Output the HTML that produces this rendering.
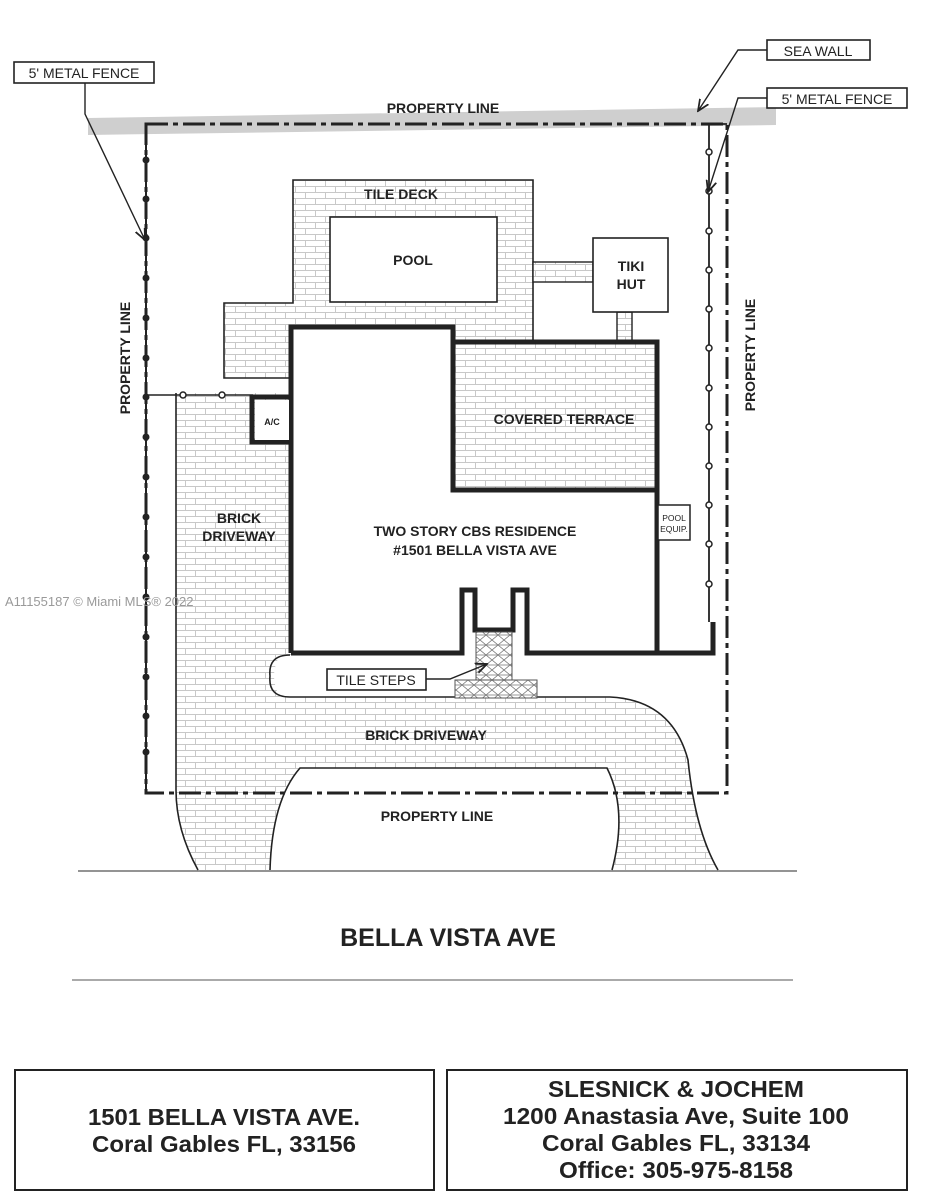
<!DOCTYPE html>
<html><head><meta charset="utf-8"><style>
html,body{margin:0;padding:0;background:#fff}
svg{display:block}
text{font-family:"Liberation Sans",Arial,sans-serif;fill:#222}
</style></head><body>
<svg width="927" height="1200" viewBox="0 0 927 1200" xmlns="http://www.w3.org/2000/svg">
<defs>
<pattern id="brick" width="20" height="12" patternUnits="userSpaceOnUse">
<rect width="20" height="12" fill="#fff"/>
<path d="M0 0.5H20M0 6.5H20M5.5 0.5V6.5M15.5 6.5V12.5" stroke="#c8c8c8" stroke-width="1" fill="none"/>
</pattern>
<pattern id="hatch" width="12" height="10" patternUnits="userSpaceOnUse">
<rect width="12" height="10" fill="#fff"/>
<path d="M0 0L6 5L0 10M6 5L12 0M6 5L12 10M0 5H12" stroke="#777" stroke-width="0.8" fill="none"/>
</pattern>
<marker id="ar" viewBox="0 0 10 10" refX="9" refY="5" markerWidth="9" markerHeight="9" orient="auto"><path d="M0 1L9 5L0 9" fill="none" stroke="#222" stroke-width="1.4"/></marker>
</defs>

<polygon points="88,118 776,107 776,125 88,135" fill="#cfcfcf"/>

<path d="M176,393 H291 V655 H280 Q268,676 280,697 H610 Q672,700 688,760 Q695,830 718,870 H612 Q628,810 607,768 H300 Q272,800 270,870 H198 Q176,830 176,790 Z" fill="url(#brick)" stroke="none"/>
<rect x="291" y="327" width="366" height="326" fill="#fff"/>
<path d="M176,393 V790 Q176,830 198,870" fill="none" stroke="#222" stroke-width="1.6"/>
<path d="M270,870 Q272,800 300,768 H607 Q628,810 612,870" fill="none" stroke="#222" stroke-width="1.6"/>
<path d="M718,870 Q695,830 688,760 Q672,700 610,697 H290 Q268,697 270,676 Q268,655 290,655" fill="none" stroke="#222" stroke-width="1.6"/>

<path d="M293,180 H533 V342 H453 V327 H291 V378 H224 V303 H293 Z" fill="url(#brick)" stroke="#222" stroke-width="1.6"/>
<rect x="330" y="217" width="167" height="85" fill="#fff" stroke="#222" stroke-width="1.6"/>
<rect x="533" y="262" width="60" height="20" fill="url(#brick)" stroke="#222" stroke-width="1.4"/>
<rect x="617" y="312" width="15" height="30" fill="url(#brick)" stroke="#222" stroke-width="1.4"/>
<rect x="593" y="238" width="75" height="74" fill="#fff" stroke="#222" stroke-width="1.6"/>

<rect x="453" y="342" width="204" height="148" fill="url(#brick)"/>

<path d="M291,653 V327 H453 V490 H657" fill="none" stroke="#222" stroke-width="5"/>
<path d="M453,342 H657 V653 H527 V590 H513 V630 H475 V590 H462 V653 H291" fill="none" stroke="#222" stroke-width="5" stroke-linejoin="miter"/>
<path d="M657,653 H713 V622" fill="none" stroke="#222" stroke-width="5"/>
<rect x="476" y="632" width="36" height="48" fill="url(#hatch)" stroke="#555" stroke-width="1"/>
<rect x="455" y="680" width="82" height="18" fill="url(#hatch)" stroke="#555" stroke-width="1"/>
<rect x="658" y="505" width="32" height="35" fill="#fff" stroke="#222" stroke-width="1.5"/>
<path d="M290,397 H252 V442 H291" fill="none" stroke="#222" stroke-width="5"/>
<rect x="255" y="400" width="34" height="40" fill="#fff"/>

<path d="M146,124 H727 V793 H146 Z" fill="none" stroke="#222" stroke-width="3" stroke-dasharray="22,5,5,5"/>
<line x1="146" y1="124" x2="146" y2="793" stroke="#222" stroke-width="2"/>
<g fill="#222">
<circle cx="146" cy="160" r="3.5"/><circle cx="146" cy="199" r="3.5"/><circle cx="146" cy="238" r="3.5"/><circle cx="146" cy="278" r="3.5"/><circle cx="146" cy="318" r="3.5"/><circle cx="146" cy="358" r="3.5"/><circle cx="146" cy="397" r="3.5"/><circle cx="146" cy="437" r="3.5"/><circle cx="146" cy="477" r="3.5"/><circle cx="146" cy="517" r="3.5"/><circle cx="146" cy="557" r="3.5"/><circle cx="146" cy="597" r="3.5"/><circle cx="146" cy="637" r="3.5"/><circle cx="146" cy="677" r="3.5"/><circle cx="146" cy="716" r="3.5"/><circle cx="146" cy="752" r="3.5"/>
</g>
<line x1="146" y1="395" x2="253" y2="395" stroke="#222" stroke-width="1.6"/>
<circle cx="183" cy="395" r="3" fill="#fff" stroke="#222" stroke-width="1.5"/>
<circle cx="222" cy="395" r="3" fill="#fff" stroke="#222" stroke-width="1.5"/>
<path d="M727,124 H709 V622" fill="none" stroke="#222" stroke-width="1.8"/>
<g fill="#fff" stroke="#222" stroke-width="1.5">
<circle cx="709" cy="152" r="3"/><circle cx="709" cy="191" r="3"/><circle cx="709" cy="231" r="3"/><circle cx="709" cy="270" r="3"/><circle cx="709" cy="309" r="3"/><circle cx="709" cy="348" r="3"/><circle cx="709" cy="388" r="3"/><circle cx="709" cy="427" r="3"/><circle cx="709" cy="466" r="3"/><circle cx="709" cy="505" r="3"/><circle cx="709" cy="544" r="3"/><circle cx="709" cy="584" r="3"/>
</g>

<rect x="14" y="62" width="140" height="21" fill="#fff" stroke="#222" stroke-width="1.6"/>
<text x="84" y="78" font-size="14" text-anchor="middle">5' METAL FENCE</text>
<path d="M85,83 V114 L145,240" fill="none" stroke="#222" stroke-width="1.4" marker-end="url(#ar)"/>
<rect x="767" y="40" width="103" height="20" fill="#fff" stroke="#222" stroke-width="1.6"/>
<text x="818" y="56" font-size="14" text-anchor="middle">SEA WALL</text>
<path d="M767,50 H738 L698,111" fill="none" stroke="#222" stroke-width="1.4" marker-end="url(#ar)"/>
<rect x="767" y="88" width="140" height="20" fill="#fff" stroke="#222" stroke-width="1.6"/>
<text x="837" y="104" font-size="14" text-anchor="middle">5' METAL FENCE</text>
<path d="M767,98 H738 L708,192" fill="none" stroke="#222" stroke-width="1.4" marker-end="url(#ar)"/>
<rect x="327" y="669" width="99" height="21" fill="#fff" stroke="#222" stroke-width="1.6"/>
<text x="376" y="685" font-size="14" text-anchor="middle">TILE STEPS</text>
<path d="M426,679 H450 L487,664" fill="none" stroke="#222" stroke-width="1.4" marker-end="url(#ar)"/>

<g font-weight="bold">
<text x="443" y="113" font-size="14" text-anchor="middle">PROPERTY LINE</text>
<text x="0" y="0" font-size="14" text-anchor="middle" transform="translate(130,358) rotate(-90)">PROPERTY LINE</text>
<text x="0" y="0" font-size="14" text-anchor="middle" transform="translate(755,355) rotate(-90)">PROPERTY LINE</text>
<text x="437" y="821" font-size="14" text-anchor="middle">PROPERTY LINE</text>
<text x="401" y="199" font-size="14" text-anchor="middle">TILE DECK</text>
<text x="413" y="265" font-size="14" text-anchor="middle">POOL</text>
<text x="631" y="271" font-size="14" text-anchor="middle">TIKI</text>
<text x="631" y="289" font-size="14" text-anchor="middle">HUT</text>
<text x="564" y="424" font-size="14" text-anchor="middle">COVERED TERRACE</text>
<text x="475" y="536" font-size="14" text-anchor="middle">TWO STORY CBS RESIDENCE</text>
<text x="475" y="555" font-size="14" text-anchor="middle">#1501 BELLA VISTA AVE</text>
<text x="239" y="523" font-size="14" text-anchor="middle">BRICK</text>
<text x="239" y="541" font-size="14" text-anchor="middle">DRIVEWAY</text>
<text x="426" y="740" font-size="14" text-anchor="middle">BRICK DRIVEWAY</text>
<text x="272" y="425" font-size="9" text-anchor="middle">A/C</text>
<text x="674" y="521" font-size="8.5" text-anchor="middle" font-weight="normal">POOL</text>
<text x="674" y="532" font-size="8.5" text-anchor="middle" font-weight="normal">EQUIP.</text>
</g>
<text x="5" y="606" font-size="13" style="fill:#9a9a9a">A11155187 © Miami MLS® 2022</text>

<line x1="78" y1="871" x2="797" y2="871" stroke="#555" stroke-width="1.2"/>
<text x="448" y="946" font-size="25" text-anchor="middle" font-weight="bold">BELLA VISTA AVE</text>
<line x1="72" y1="980" x2="793" y2="980" stroke="#777" stroke-width="1.2"/>

<rect x="15" y="1070" width="419" height="120" fill="#fff" stroke="#222" stroke-width="2"/>
<rect x="447" y="1070" width="460" height="120" fill="#fff" stroke="#222" stroke-width="2"/>
<g font-size="23" font-weight="bold" text-anchor="middle">
<text x="224" y="1125" textLength="272" lengthAdjust="spacingAndGlyphs">1501 BELLA VISTA AVE.</text>
<text x="224" y="1152" textLength="264" lengthAdjust="spacingAndGlyphs">Coral Gables FL, 33156</text>
<text x="676" y="1097" textLength="256" lengthAdjust="spacingAndGlyphs">SLESNICK &amp; JOCHEM</text>
<text x="676" y="1124" textLength="346" lengthAdjust="spacingAndGlyphs">1200 Anastasia Ave, Suite 100</text>
<text x="676" y="1151" textLength="268" lengthAdjust="spacingAndGlyphs">Coral Gables FL, 33134</text>
<text x="676" y="1178" textLength="234" lengthAdjust="spacingAndGlyphs">Office: 305-975-8158</text>
</g>
</svg>
</body></html>
